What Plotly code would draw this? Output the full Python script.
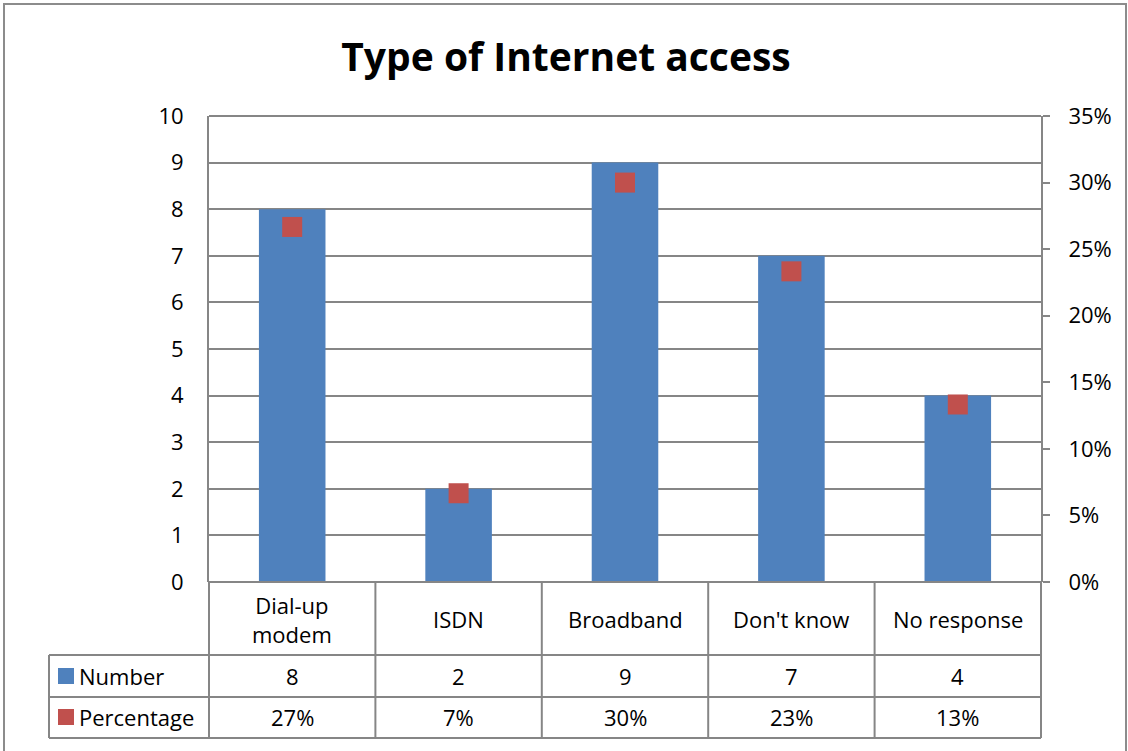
import plotly.graph_objects as go

# Survey responses: type of Internet access
categories = ["Dial-up modem", "ISDN", "Broadband", "Don't know", "No response"]
category_labels = ["Dial-up<br>modem", "ISDN", "Broadband", "Don't know", "No response"]
numbers = [8, 2, 9, 7, 4]
total = sum(numbers)
percentages = [n / total for n in numbers]
pct_labels = [f"{round(p * 100)}%" for p in percentages]

W, H = 1128, 751
L, R, T, B = 209, 1041, 116, 582   # plot area edges in pixels
PW, PH = R - L, B - T

BLUE = "#4F81BD"
RED = "#C0504D"
GRID = "#868686"
FONT = "Open Sans"
FS = 22


def px(x):
    return (x - L) / PW


def py(y):
    return (B - y) / PH


fig = go.Figure()
fig.add_trace(go.Bar(
    x=categories, y=numbers, name="Number",
    marker=dict(color=BLUE, line=dict(width=0)),
    width=0.4,
))
fig.add_trace(go.Scatter(
    x=categories, y=percentages, name="Percentage", yaxis="y2",
    mode="markers",
    marker=dict(symbol="square", size=20, color=RED, line=dict(width=0)),
    cliponaxis=False,
))

shapes = []
line = dict(color=GRID, width=2)
# top and bottom edges of the plot area
for y in (T, B):
    shapes.append(dict(type="line", xref="paper", yref="paper",
                       x0=px(L), x1=px(R), y0=py(y), y1=py(y), line=line))
# table grid below the plot
row_y = [655, 697, 738]
for y in row_y:
    shapes.append(dict(type="line", xref="paper", yref="paper",
                       x0=px(49), x1=px(R), y0=py(y), y1=py(y), line=line))
col_x = [L + i * PW / 5 for i in range(6)]
for x in col_x:
    shapes.append(dict(type="line", xref="paper", yref="paper",
                       x0=px(x), x1=px(x), y0=py(B), y1=py(738), line=line))
shapes.append(dict(type="line", xref="paper", yref="paper",
                   x0=px(49), x1=px(49), y0=py(655), y1=py(738), line=line))
# legend keys inside the table
for y0, col in [(668, BLUE), (709, RED)]:
    shapes.append(dict(type="rect", xref="paper", yref="paper",
                       x0=px(58), x1=px(74), y0=py(y0), y1=py(y0 + 16),
                       fillcolor=col, line=dict(width=0)))
# outer chart frame
shapes.append(dict(type="rect", xref="paper", yref="paper",
                   x0=px(4), x1=px(1126), y0=py(4), y1=py(760),
                   line=dict(color="#8C8C8C", width=2)))

annotations = []
tfont = dict(family=FONT, size=FS, color="black")
for cat, lab, n, p in zip(categories, category_labels, numbers, pct_labels):
    annotations.append(dict(x=cat, y=py(619), xref="x", yref="paper", text=lab,
                            showarrow=False, font=tfont, yanchor="middle"))
    annotations.append(dict(x=cat, y=py(676), xref="x", yref="paper", text=str(n),
                            showarrow=False, font=tfont, yanchor="middle"))
    annotations.append(dict(x=cat, y=py(717), xref="x", yref="paper", text=p,
                            showarrow=False, font=tfont, yanchor="middle"))
for y, name in [(676, "Number"), (717, "Percentage")]:
    annotations.append(dict(x=px(77), y=py(y), xref="paper", yref="paper", text=name,
                            showarrow=False, font=tfont, xanchor="left", yanchor="middle"))

fig.update_layout(
    width=W, height=H,
    margin=dict(l=L, r=W - R, t=T, b=H - B),
    paper_bgcolor="white", plot_bgcolor="white",
    showlegend=False,
    title=dict(text="<b>Type of Internet access</b>", x=566 / W, xanchor="center",
               y=1 - 57 / H, yanchor="middle",
               font=dict(family=FONT, size=39, color="black")),
    font=dict(family=FONT, size=FS, color="black"),
    xaxis=dict(showticklabels=False, showline=False, showgrid=False, ticks="",
               range=[-0.5, 4.5], zeroline=False),
    yaxis=dict(range=[0, 10], dtick=1, showgrid=True, gridcolor=GRID, gridwidth=2,
               showline=True, linecolor=GRID, linewidth=2, ticks="",
               zeroline=False, ticklabelstandoff=19,
               tickfont=dict(family=FONT, size=FS)),
    yaxis2=dict(range=[0, 0.35], dtick=0.05, tickformat=".0%", overlaying="y",
                side="right", showgrid=False, showline=True, linecolor=GRID,
                linewidth=2, ticks="outside", ticklen=7, tickcolor=GRID,
                tickwidth=2, zeroline=False, ticklabelstandoff=14,
                tickfont=dict(family=FONT, size=FS)),
    shapes=shapes,
    annotations=annotations,
    bargap=0.6,
)

fig.write_html("out.html")
